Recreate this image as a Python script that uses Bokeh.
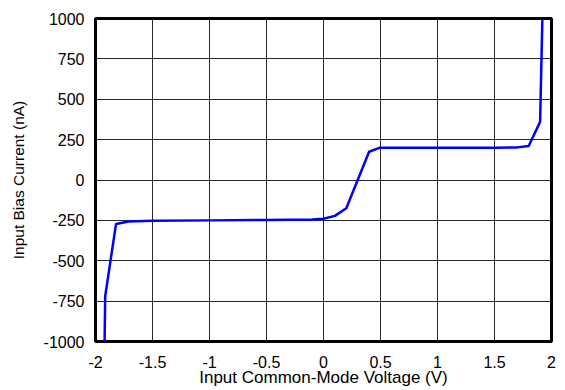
from bokeh.plotting import figure
from bokeh.models import FixedTicker, Range1d
from bokeh.embed import file_html
from bokeh.resources import INLINE

voltage = [-1.92, -1.915, -1.82, -1.71, -1.5, -1.0, -0.5, -0.1, 0.0, 0.1, 0.2, 0.4, 0.49, 1.0, 1.5, 1.7, 1.8, 1.9, 1.92]
bias_current = [-1000, -720, -272, -257, -252, -250, -248, -245, -240, -222, -175, 175, 199, 200, 200, 202, 210, 360, 1000]

x_ticks = [-2, -1.5, -1, -0.5, 0, 0.5, 1, 1.5, 2]
x_labels = ["-2", "-1.5", "-1", "-0.5", "0", "0.5", "1", "1.5", "2"]
y_ticks = [-1000, -750, -500, -250, 0, 250, 500, 750, 1000]
y_labels = ["-1000", "-750", "-500", "-250", "0", "250", "500", "750", "1000"]

p = figure(width=560, height=389, output_backend="svg", toolbar_location=None,
           x_range=Range1d(-2, 2), y_range=Range1d(-1000, 1000),
           min_border_left=95, min_border_right=9, min_border_top=18, min_border_bottom=47)

p.line(voltage, bias_current, line_color="#0000FF", line_width=2.5)

p.outline_line_color = "black"
p.outline_line_width = 3
p.outline_line_alpha = 1

for ax in (p.xaxis[0], p.yaxis[0]):
    ax.axis_line_color = None
    ax.major_tick_line_color = None
    ax.minor_tick_line_color = None
    ax.major_label_text_font = "Liberation Sans"
    ax.major_label_text_font_size = "16px"
    ax.major_label_text_color = "black"
    ax.axis_label_text_font = "Liberation Sans"
    ax.axis_label_text_font_style = "normal"
    ax.axis_label_text_color = "black"

p.xaxis[0].axis_label_text_font_size = "17px"
p.yaxis[0].axis_label_text_font_size = "15.5px"

p.xaxis[0].ticker = FixedTicker(ticks=x_ticks)
p.xaxis[0].major_label_overrides = {t: l for t, l in zip(x_ticks, x_labels)}
p.yaxis[0].ticker = FixedTicker(ticks=y_ticks)
p.yaxis[0].major_label_overrides = {t: l for t, l in zip(y_ticks, y_labels)}

p.xaxis[0].axis_label = "Input Common-Mode Voltage (V)"
p.yaxis[0].axis_label = "Input Bias Current (nA)"
p.xaxis[0].major_label_standoff = 8
p.xaxis[0].axis_label_standoff = -3
p.yaxis[0].major_label_standoff = 5
p.yaxis[0].axis_label_standoff = 14

p.xgrid.grid_line_color = "black"
p.ygrid.grid_line_color = "black"
p.xgrid.grid_line_width = 1
p.ygrid.grid_line_width = 1
p.xgrid.grid_line_alpha = 0.85
p.ygrid.grid_line_alpha = 0.85

open("out.html", "w").write(file_html(p, INLINE))
